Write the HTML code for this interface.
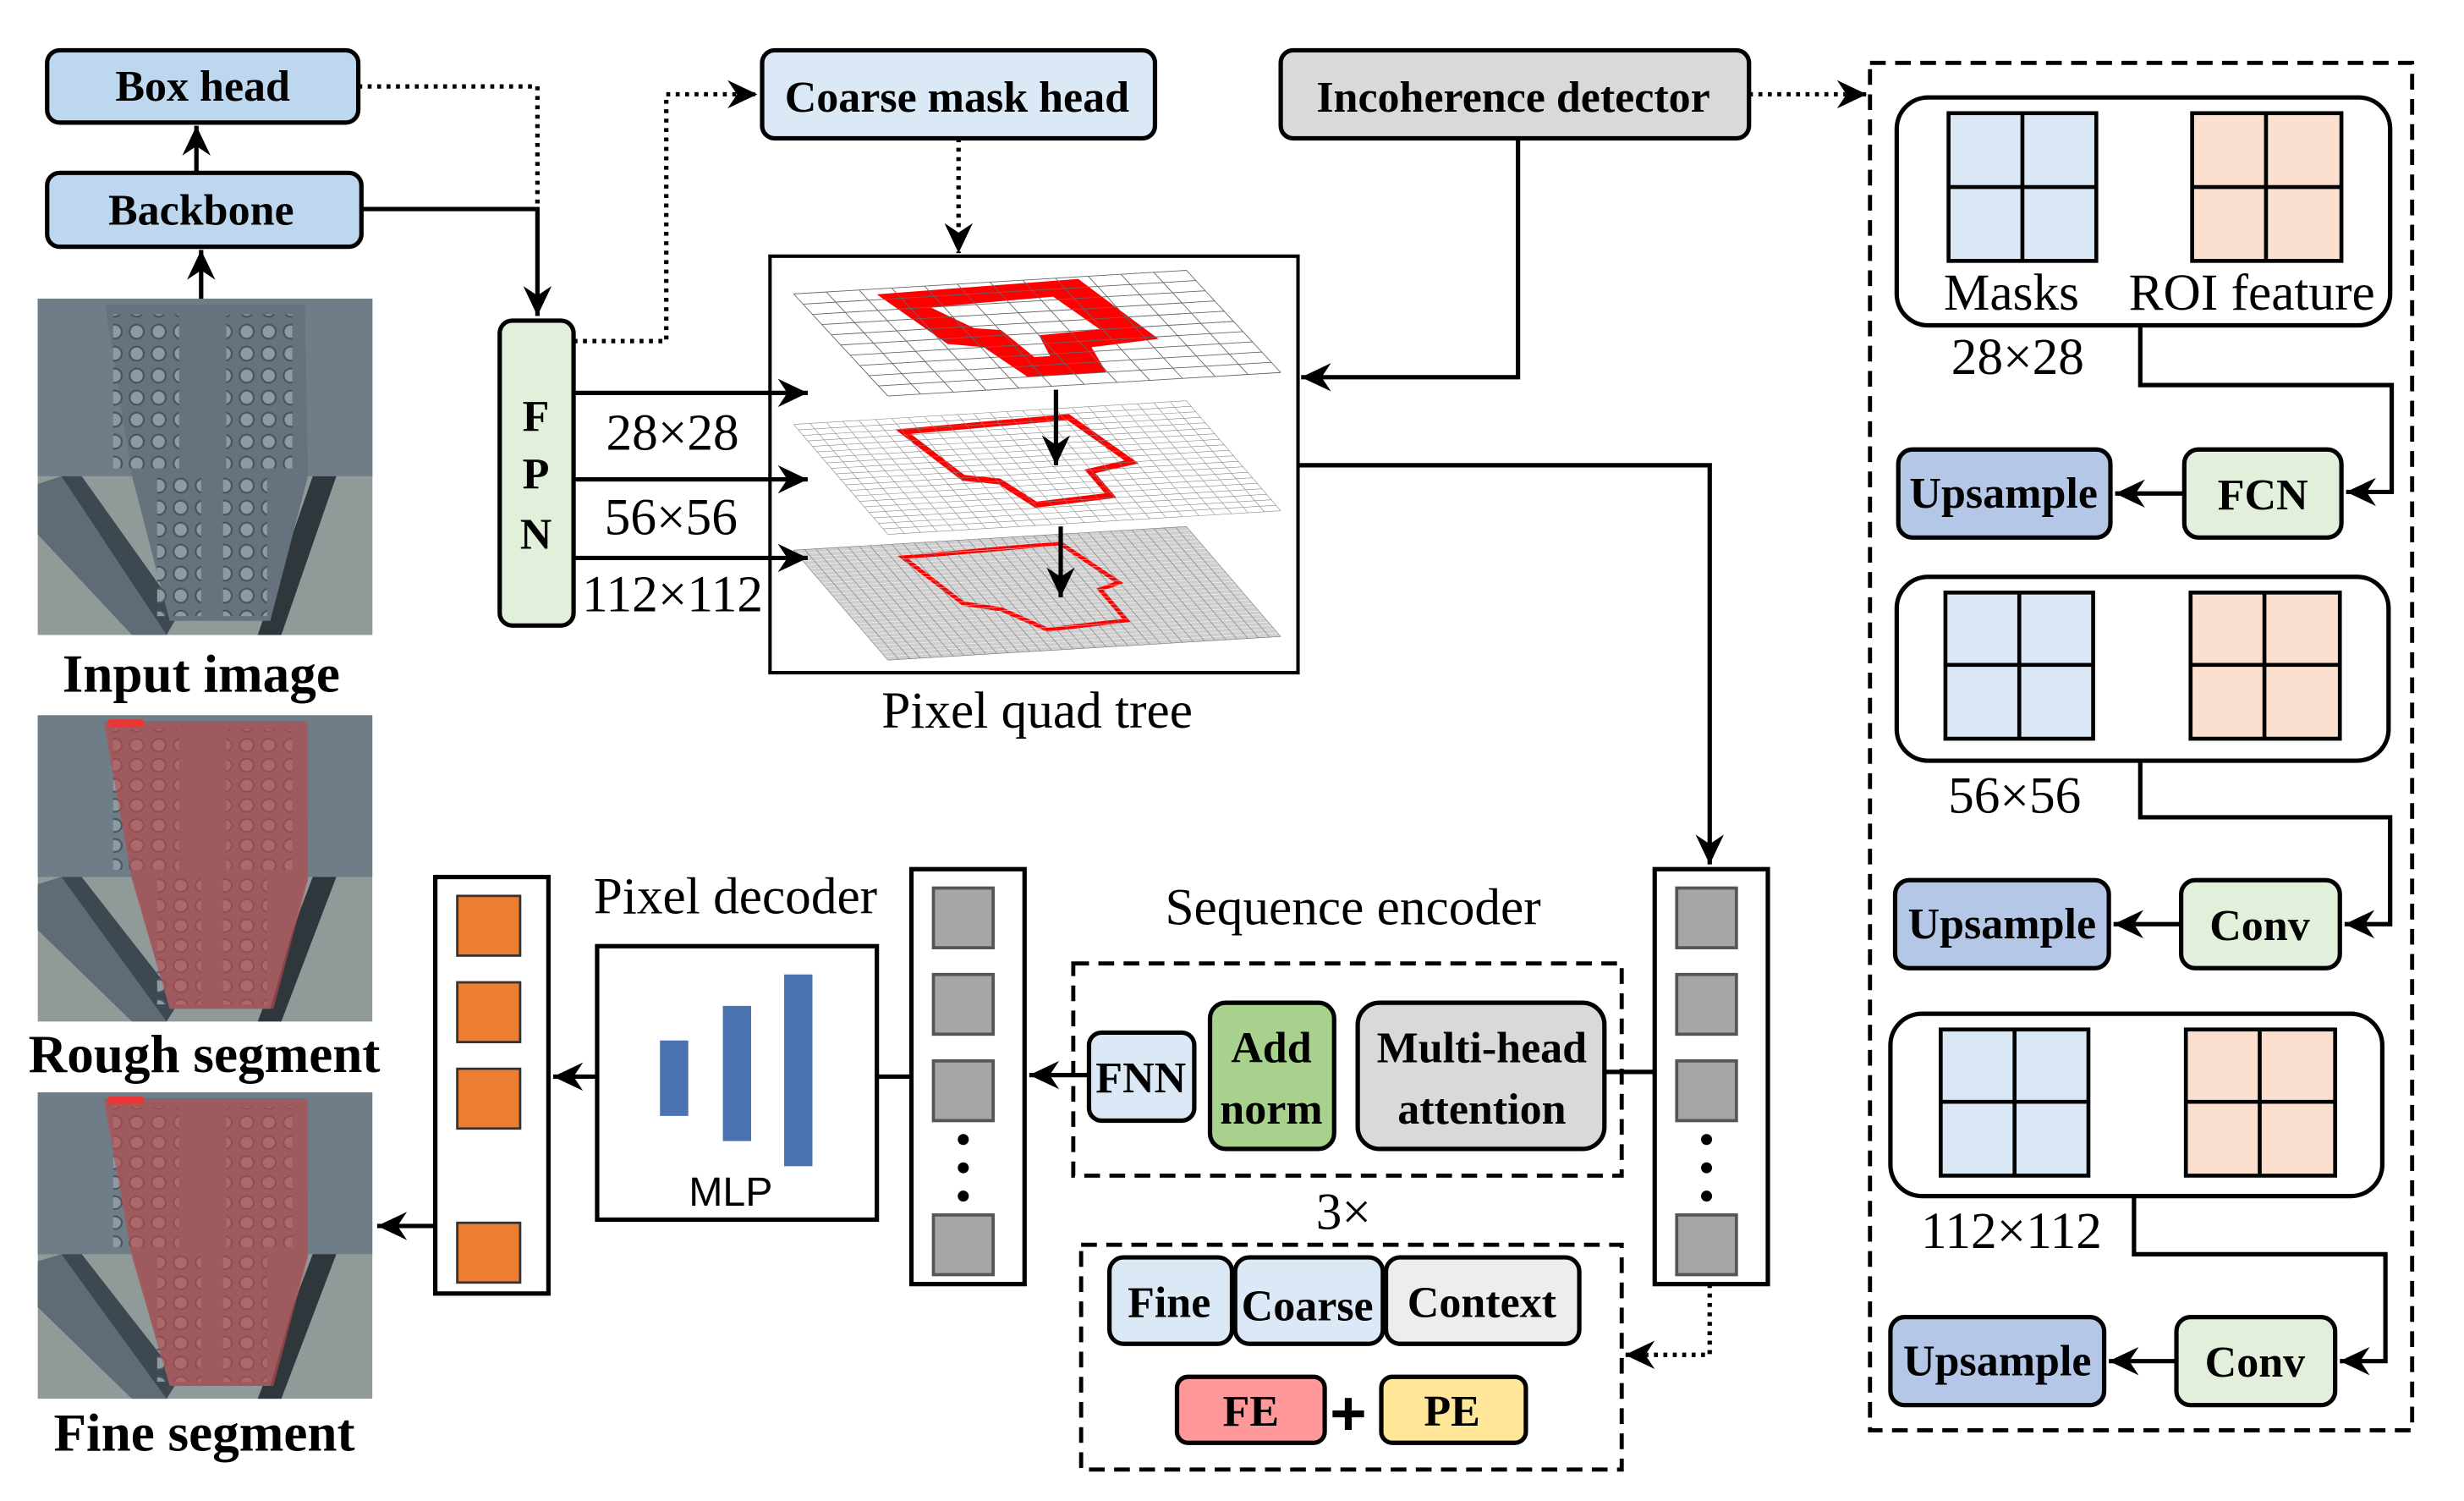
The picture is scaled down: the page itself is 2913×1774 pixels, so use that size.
<!DOCTYPE html>
<html><head><meta charset="utf-8"><style>
html,body{margin:0;padding:0;background:#fff;}
svg{display:block;}
text{font-family:"Liberation Serif",serif;}
.b{font-weight:bold;font-size:28px;text-anchor:middle;}
.n{font-size:33px;text-anchor:middle;}
.lbl{font-weight:bold;font-size:34px;text-anchor:middle;}
.box{stroke:#000;stroke-width:2.8;}
.ln{stroke:#000;stroke-width:2.8;fill:none;}
.dt{stroke:#000;stroke-width:2.8;fill:none;stroke-dasharray:2.5 3.5;}
.dash{stroke:#000;stroke-width:2.6;fill:none;stroke-dasharray:10 6;}
</style></head><body>
<svg width="2913" height="1774" viewBox="0 0 1568 955" preserveAspectRatio="none" xmlns="http://www.w3.org/2000/svg">
<defs>
<marker id="ar" viewBox="-20 -10 22 20" refX="1" refY="0" markerWidth="22" markerHeight="20" markerUnits="userSpaceOnUse" orient="auto" overflow="visible">
<path d="M-18,-9 L1,0 L-18,9 L-12,0 Z" fill="#000"/>
</marker>
<pattern id="bolt" width="14" height="14" patternUnits="userSpaceOnUse"><circle cx="7" cy="7" r="4.5" fill="#8d9aa2" stroke="#4a545c" stroke-width="1.2"/></pattern>
<g id="photo">
<rect x="0" y="0" width="213" height="214" fill="#8f9a99"/>
<rect x="0" y="0" width="213" height="113" fill="#6f7d88"/>
<polygon points="0,118 15,113 82,214 60,214 0,150" fill="#5f6b75"/>
<polygon points="15,113 28,113 90,200 82,214" fill="#3e4850"/>
<polygon points="175,113 190,113 155,214 140,214" fill="#2f373d"/>
<polygon points="43,4 170,4 172,113 148,205 84,205 60,113" fill="#66737e"/>
<rect x="48" y="10" width="42" height="98" fill="url(#bolt)"/>
<rect x="120" y="10" width="42" height="98" fill="url(#bolt)"/>
<rect x="76" y="110" width="28" height="92" fill="url(#bolt)"/>
<rect x="118" y="110" width="28" height="92" fill="url(#bolt)"/>
</g>
</defs>

<use href="#photo" x="24" y="190"/>
<svg x="24" y="455" width="213" height="195" viewBox="0 0 213 214" preserveAspectRatio="none"><use href="#photo"/><polygon points="42,5 172,5 172,115 150,205 84,205 60,115" fill="#c24a4a" opacity="0.62"/><rect x="45" y="3" width="22" height="5" fill="#e33"/></svg>
<svg x="24" y="695" width="213" height="195" viewBox="0 0 213 214" preserveAspectRatio="none"><use href="#photo"/><polygon points="42,5 172,5 172,115 150,205 84,205 60,115" fill="#c24a4a" opacity="0.62"/><rect x="45" y="3" width="22" height="5" fill="#e33"/></svg>
<text class="lbl" x="128" y="440">Input image</text>
<text class="lbl" x="130" y="682">Rough segment</text>
<text class="lbl" x="130" y="923">Fine segment</text>

<rect class="box" x="30" y="32" width="198" height="46" rx="8" fill="#bdd7ee"/>
<text class="b" x="129" y="64">Box head</text>
<rect class="box" x="30" y="110" width="200" height="47" rx="8" fill="#bdd7ee"/>
<text class="b" x="128" y="143">Backbone</text>
<line class="ln" x1="125" y1="110" x2="125" y2="80" marker-end="url(#ar)"/>
<line class="ln" x1="128" y1="190" x2="128" y2="159" marker-end="url(#ar)"/>
<polyline class="ln" points="230,133 342,133 342,201" marker-end="url(#ar)"/>
<polyline class="dt" points="228,55 342,55 342,133"/>

<rect class="box" x="318" y="204" width="47" height="194" rx="8" fill="#e2efda"/>
<text class="b" x="341" y="274">F</text>
<text class="b" x="341" y="311">P</text>
<text class="b" x="341" y="349">N</text>
<polyline class="dt" points="365,217 424,217 424,60 482,60" marker-end="url(#ar)"/>
<text class="n" x="428" y="286">28×28</text>
<text class="n" x="427" y="340">56×56</text>
<text class="n" x="428" y="389">112×112</text>

<rect class="box" x="485" y="32" width="250" height="56" rx="8" fill="#dbe9f6"/>
<text class="b" x="609" y="71">Coarse mask head</text>
<line class="dt" x1="610" y1="88" x2="610" y2="161" marker-end="url(#ar)"/>
<rect class="box" x="815" y="32" width="298" height="56" rx="8" fill="#d9d9d9"/>
<text class="b" x="963" y="71">Incoherence detector</text>
<polyline class="ln" points="966,88 966,240 828,240" marker-end="url(#ar)"/>
<line class="dt" x1="1113" y1="60" x2="1188" y2="60" marker-end="url(#ar)"/>

<rect x="490" y="163" width="336" height="265" fill="#fff" stroke="#000" stroke-width="2.2"/>
<g transform="matrix(250,-15,60,65,505,187)">
<rect x="0" y="0" width="1" height="1" fill="#fff"/>
<path d="M0.2,0.05 L0.72,0.02 L0.78,0.62 L0.6,0.66 L0.58,0.9 L0.38,0.9 L0.34,0.6 L0.26,0.55 Z" fill="#f00"/>
<path d="M0.3,0.2 L0.62,0.17 L0.66,0.5 L0.5,0.52 L0.48,0.72 L0.44,0.72 L0.42,0.45 L0.36,0.42 Z" fill="#fff"/>
<path d="M0,0H1M0,.1H1M0,.2H1M0,.3H1M0,.4H1M0,.5H1M0,.6H1M0,.7H1M0,.8H1M0,.9H1M0,1H1M0,0V1M.0833,0V1M.1667,0V1M.25,0V1M.3333,0V1M.4167,0V1M.5,0V1M.5833,0V1M.6667,0V1M.75,0V1M.8333,0V1M.9167,0V1M1,0V1" stroke="#666" stroke-width="0.9" fill="none" vector-effect="non-scaling-stroke"/>
</g>
<g transform="matrix(250,-15,60,70,505,270)">
<rect x="0" y="0" width="1" height="1" fill="#fff"/>
<path d="M0.25,0.12 L0.68,0.08 L0.74,0.5 L0.62,0.56 L0.62,0.78 L0.42,0.82 L0.38,0.6 L0.3,0.55 Z" fill="none" stroke="#f00" stroke-width="7" vector-effect="non-scaling-stroke"/>
</g>
<g transform="matrix(250,-15,60,70,505,350)">
<rect x="0" y="0" width="1" height="1" fill="#cfcfcf"/>
<path d="M0.25,0.12 L0.66,0.08 L0.72,0.45 L0.66,0.5 L0.66,0.78 L0.45,0.82 L0.38,0.62 L0.3,0.55 Z" fill="none" stroke="#f00" stroke-width="5" vector-effect="non-scaling-stroke"/>
</g>
<g transform="matrix(250,-15,60,70,505,270)" stroke="#888" stroke-width="0.6" fill="none">
<path vector-effect="non-scaling-stroke" d="M0,0H1M0,.05H1M0,.1H1M0,.15H1M0,.2H1M0,.25H1M0,.3H1M0,.35H1M0,.4H1M0,.45H1M0,.5H1M0,.55H1M0,.6H1M0,.65H1M0,.7H1M0,.75H1M0,.8H1M0,.85H1M0,.9H1M0,.95H1M0,1H1M0,0V1M.0417,0V1M.0833,0V1M.125,0V1M.1667,0V1M.2083,0V1M.25,0V1M.2917,0V1M.3333,0V1M.375,0V1M.4167,0V1M.4583,0V1M.5,0V1M.5417,0V1M.5833,0V1M.625,0V1M.6667,0V1M.7083,0V1M.75,0V1M.7917,0V1M.8333,0V1M.875,0V1M.9167,0V1M.9583,0V1M1,0V1"/>
</g>
<g transform="matrix(250,-15,60,70,505,350)" stroke="#fff" stroke-width="0.6" fill="none" opacity="0.8">
<path vector-effect="non-scaling-stroke" d="M0,.033H1M0,.067H1M0,.1H1M0,.133H1M0,.167H1M0,.2H1M0,.233H1M0,.267H1M0,.3H1M0,.333H1M0,.367H1M0,.4H1M0,.433H1M0,.467H1M0,.5H1M0,.533H1M0,.567H1M0,.6H1M0,.633H1M0,.667H1M0,.7H1M0,.733H1M0,.767H1M0,.8H1M0,.833H1M0,.867H1M0,.9H1M0,.933H1M0,.967H1"/>
</g>
<g transform="matrix(250,-15,60,70,505,350)" stroke="#777" stroke-width="0.6" fill="none">
<path vector-effect="non-scaling-stroke" d="M0,0H1M0,1H1M0,0V1M1,0V1M.028,0V1M.056,0V1M.083,0V1M.111,0V1M.139,0V1M.167,0V1M.194,0V1M.222,0V1M.25,0V1M.278,0V1M.306,0V1M.333,0V1M.361,0V1M.389,0V1M.417,0V1M.444,0V1M.472,0V1M.5,0V1M.528,0V1M.556,0V1M.583,0V1M.611,0V1M.639,0V1M.667,0V1M.694,0V1M.722,0V1M.75,0V1M.778,0V1M.806,0V1M.833,0V1M.861,0V1M.889,0V1M.917,0V1M.944,0V1M.972,0V1"/>
</g>
<line class="ln" x1="365" y1="250" x2="514" y2="250" marker-end="url(#ar)"/>
<line class="ln" x1="365" y1="305" x2="514" y2="305" marker-end="url(#ar)"/>
<line class="ln" x1="365" y1="355" x2="514" y2="355" marker-end="url(#ar)"/>
<line class="ln" x1="672" y1="248" x2="672" y2="296" marker-end="url(#ar)"/>
<line class="ln" x1="675" y1="335" x2="675" y2="380" marker-end="url(#ar)"/>
<text class="n" x="660" y="463">Pixel quad tree</text>

<polyline class="ln" points="826,296 1088,296 1088,550" marker-end="url(#ar)"/>

<rect x="1053" y="553" width="72" height="264" fill="#fff" stroke="#000" stroke-width="2.8"/>
<g fill="#a6a6a6" stroke="#555" stroke-width="2">
<rect x="1067" y="565" width="38" height="38"/><rect x="1067" y="620" width="38" height="38"/><rect x="1067" y="675" width="38" height="38"/><rect x="1067" y="773" width="38" height="38"/>
<rect x="594" y="565" width="38" height="38"/><rect x="594" y="620" width="38" height="38"/><rect x="594" y="675" width="38" height="38"/><rect x="594" y="773" width="38" height="38"/>
</g>
<g fill="#000"><circle cx="1086" cy="725" r="3.5"/><circle cx="1086" cy="743" r="3.5"/><circle cx="1086" cy="761" r="3.5"/>
<circle cx="613" cy="725" r="3.5"/><circle cx="613" cy="743" r="3.5"/><circle cx="613" cy="761" r="3.5"/>
<circle cx="311" cy="730" r="3.5"/><circle cx="311" cy="748" r="3.5"/><circle cx="311" cy="766" r="3.5"/></g>

<text class="n" x="861" y="588">Sequence encoder</text>
<rect class="dash" x="683" y="613" width="349" height="135" stroke="#555"/>
<line class="ln" x1="1053" y1="682" x2="1021" y2="682"/>
<rect class="box" x="693" y="657" width="67" height="56" rx="8" fill="#dbe9f6"/>
<text class="b" x="726" y="695">FNN</text>
<rect class="box" x="770" y="638" width="79" height="93" rx="10" fill="#a9d18e"/>
<text class="b" x="809" y="676">Add</text><text class="b" x="809" y="715">norm</text>
<rect class="box" x="864" y="638" width="157" height="93" rx="14" fill="#d9d9d9"/>
<text class="b" x="943" y="676">Multi-head</text><text class="b" x="943" y="715">attention</text>
<line class="ln" x1="693" y1="684" x2="655" y2="684" marker-end="url(#ar)"/>
<text class="n" x="855" y="782">3×</text>

<rect x="580" y="553" width="72" height="264" fill="none" stroke="#000" stroke-width="2.8"/>
<line class="ln" x1="580" y1="685" x2="558" y2="685"/>

<text class="n" x="468" y="581">Pixel decoder</text>
<rect x="380" y="602" width="178" height="174" fill="#fff" stroke="#000" stroke-width="2.8"/>
<rect x="420" y="662" width="18" height="48" fill="#4a72b0"/>
<rect x="460" y="640" width="18" height="86" fill="#4a72b0"/>
<rect x="499" y="620" width="18" height="122" fill="#4a72b0"/>
<text x="465" y="767" style="font-family:'Liberation Sans',sans-serif;font-size:26px;text-anchor:middle">MLP</text>
<line class="ln" x1="380" y1="685" x2="352" y2="685" marker-end="url(#ar)"/>

<rect x="277" y="558" width="72" height="265" fill="#fff" stroke="#000" stroke-width="2.8"/>
<g fill="#ed7d31" stroke="#333" stroke-width="1.5">
<rect x="291" y="570" width="40" height="38"/><rect x="291" y="625" width="40" height="38"/><rect x="291" y="680" width="40" height="38"/><rect x="291" y="778" width="40" height="38"/></g>
<line class="ln" x1="277" y1="780" x2="240" y2="780" marker-end="url(#ar)"/>

<rect class="dash" x="688" y="792" width="344" height="143"/>
<rect class="box" x="706" y="800" width="78" height="55" rx="9" fill="#dbe9f6"/>
<text class="b" x="744" y="838">Fine</text>
<rect class="box" x="786" y="800" width="94" height="55" rx="9" fill="#dbe9f6"/>
<text class="b" x="832" y="840">Coarse</text>
<rect class="box" x="882" y="800" width="123" height="55" rx="9" fill="#ededed"/>
<text class="b" x="943" y="838">Context</text>
<rect class="box" x="749" y="876" width="94" height="42" rx="7" fill="#ff9999"/>
<text class="b" x="796" y="907">FE</text>
<text x="858" y="913" style="font-family:'Liberation Sans',sans-serif;font-weight:bold;font-size:40px;text-anchor:middle">+</text>
<rect class="box" x="879" y="876" width="92" height="42" rx="7" fill="#ffe699"/>
<text class="b" x="924" y="907">PE</text>
<polyline class="dt" points="1088,817 1088,862 1034,862" marker-end="url(#ar)"/>

<rect class="dash" x="1190" y="40" width="345" height="870"/>
<g>
<rect x="1207" y="62" width="314" height="145" rx="20" fill="#fff" stroke="#000" stroke-width="2.8"/>
<rect x="1240" y="72" width="94" height="94" fill="#dae8f5" stroke="#000" stroke-width="2.5"/><path d="M1287,72V166M1240,119H1334" stroke="#000" stroke-width="2.5"/>
<rect x="1395" y="72" width="95" height="94" fill="#fbe0d0" stroke="#000" stroke-width="2.5"/><path d="M1442,72V166M1395,119H1490" stroke="#000" stroke-width="2.5"/>
<text class="n" x="1280" y="197">Masks</text><text class="n" x="1433" y="197">ROI feature</text>
<text class="n" x="1284" y="238">28×28</text>
<polyline class="ln" points="1362,207 1362,245 1522,245 1522,313 1493,313" marker-end="url(#ar)"/>
<rect class="box" x="1390" y="286" width="100" height="56" rx="9" fill="#e2efda"/><text class="b" x="1440" y="324">FCN</text>
<rect class="box" x="1208" y="286" width="135" height="56" rx="9" fill="#b4c7e7"/><text class="b" x="1275" y="323">Upsample</text>
<line class="ln" x1="1390" y1="314" x2="1346" y2="314" marker-end="url(#ar)"/>

<rect x="1207" y="367" width="313" height="117" rx="20" fill="#fff" stroke="#000" stroke-width="2.8"/>
<rect x="1238" y="377" width="94" height="93" fill="#dae8f5" stroke="#000" stroke-width="2.5"/><path d="M1285,377V470M1238,423H1332" stroke="#000" stroke-width="2.5"/>
<rect x="1394" y="377" width="95" height="93" fill="#fbe0d0" stroke="#000" stroke-width="2.5"/><path d="M1441,377V470M1394,423H1489" stroke="#000" stroke-width="2.5"/>
<text class="n" x="1282" y="517">56×56</text>
<polyline class="ln" points="1362,484 1362,520 1521,520 1521,588 1492,588" marker-end="url(#ar)"/>
<rect class="box" x="1388" y="560" width="101" height="56" rx="9" fill="#e2efda"/><text class="b" x="1438" y="598">Conv</text>
<rect class="box" x="1206" y="560" width="136" height="56" rx="9" fill="#b4c7e7"/><text class="b" x="1274" y="597">Upsample</text>
<line class="ln" x1="1388" y1="588" x2="1345" y2="588" marker-end="url(#ar)"/>

<rect x="1203" y="645" width="313" height="116" rx="20" fill="#fff" stroke="#000" stroke-width="2.8"/>
<rect x="1235" y="655" width="94" height="93" fill="#dae8f5" stroke="#000" stroke-width="2.5"/><path d="M1282,655V748M1235,701H1329" stroke="#000" stroke-width="2.5"/>
<rect x="1391" y="655" width="95" height="93" fill="#fbe0d0" stroke="#000" stroke-width="2.5"/><path d="M1438,655V748M1391,701H1486" stroke="#000" stroke-width="2.5"/>
<text class="n" x="1280" y="794">112×112</text>
<polyline class="ln" points="1358,761 1358,798 1518,798 1518,866 1489,866" marker-end="url(#ar)"/>
<rect class="box" x="1385" y="838" width="101" height="56" rx="9" fill="#e2efda"/><text class="b" x="1435" y="876">Conv</text>
<rect class="box" x="1203" y="838" width="136" height="56" rx="9" fill="#b4c7e7"/><text class="b" x="1271" y="875">Upsample</text>
<line class="ln" x1="1385" y1="866" x2="1342" y2="866" marker-end="url(#ar)"/>
</g>
</svg>
</body></html>
